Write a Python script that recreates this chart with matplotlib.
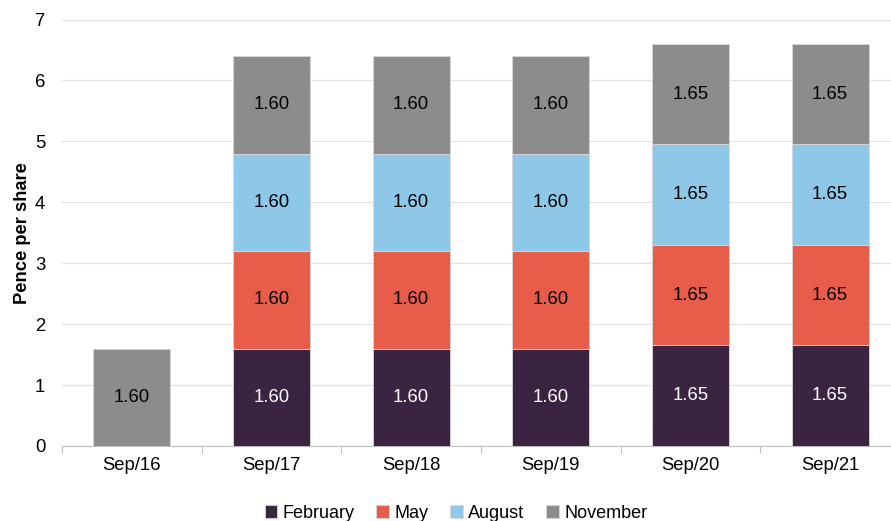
import matplotlib
matplotlib.use("Agg")
import matplotlib.pyplot as plt
import numpy as np

plt.rcParams['font.family'] = ['Liberation Sans', 'DejaVu Sans']

categories = ["Sep/16", "Sep/17", "Sep/18", "Sep/19", "Sep/20", "Sep/21"]
series_names = ["February", "May", "August", "November"]
february = [0, 1.60, 1.60, 1.60, 1.65, 1.65]
may = [0, 1.60, 1.60, 1.60, 1.65, 1.65]
august = [0, 1.60, 1.60, 1.60, 1.65, 1.65]
november = [1.60, 1.60, 1.60, 1.60, 1.65, 1.65]
colors = ["#3B2342", "#E85C4A", "#8DC8E8", "#8C8C8C"]
label_colors = ["white", "black", "black", "black"]

fig = plt.figure(figsize=(8.91, 5.21), dpi=100)
ax = fig.add_axes([62/891, 75/521, 838/891, 426.5/521])

x = np.arange(len(categories))
bottom = np.zeros(len(categories))
for name, vals, c, lc in zip(series_names, [february, may, august, november], colors, label_colors):
    vals = np.array(vals)
    ax.bar(x, vals, 0.55, bottom=bottom, color=c, edgecolor="#D9D9D9",
           linewidth=0.6, label=name, zorder=3)
    for xi, v, b in zip(x, vals, bottom):
        if v > 0:
            ax.text(xi, b + v/2, f"{v:.2f}", ha="center", va="center",
                    fontsize=13.3, color=lc, zorder=4)
    bottom = bottom + vals

ax.set_xlim(-0.5, 5.5)
ax.set_ylim(0, 7)
ax.set_yticks(range(8))
ax.tick_params(axis='y', length=0, labelsize=13.3, pad=12)
ax.set_xticks(x)
ax.set_xticklabels(categories)
ax.tick_params(axis='x', which='major', length=0, labelsize=13.3, pad=8)
ax.set_xticks(np.arange(-0.5, 6, 1), minor=True)
ax.tick_params(axis='x', which='minor', length=5, color="#BFBFBF", width=0.8)
ax.grid(axis='y', color="#E3E3E3", linewidth=0.9, zorder=0)
for s in ["top", "right", "left"]:
    ax.spines[s].set_visible(False)
ax.spines["bottom"].set_color("#BFBFBF")
ax.spines["bottom"].set_linewidth(0.8)
ax.set_ylabel("Pence per share", fontsize=13.2, fontweight="bold", labelpad=3)

fig.legend(loc="center", bbox_to_anchor=(456/891, 7.5/521), ncol=4, frameon=False,
           fontsize=13, handlelength=0.7, handleheight=0.7, handletextpad=0.3,
           columnspacing=1.2)

fig.savefig("out.png", dpi=100)
